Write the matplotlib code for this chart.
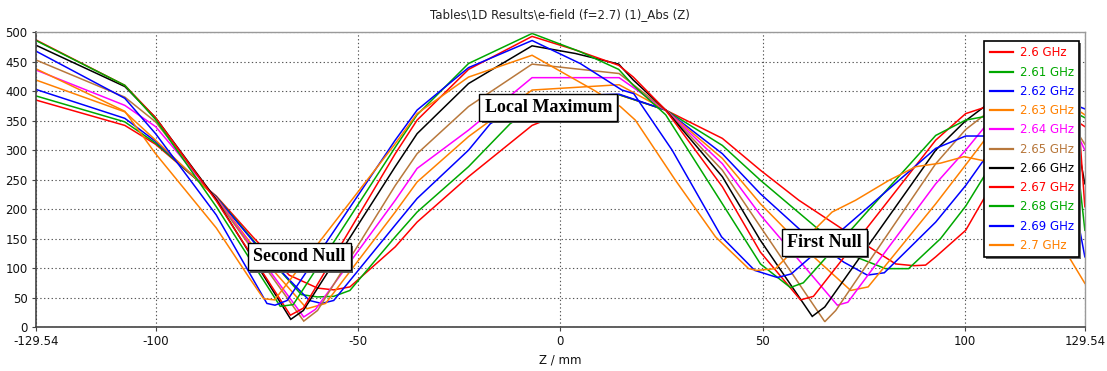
import matplotlib
matplotlib.use("Agg")
import matplotlib.pyplot as plt
from matplotlib import patheffects as pe

# ---- field magnitude along Z for each frequency (z in mm, |E| in V/m) ----
z_260 = [-129.54, -107.6, -100, -85, -76, -67, -60, -56, -52, -40.8, -35.4, -22.7, -7, 5, 14.5, 26, 40, 49.4, 58.9, 68.8, 76.2, 82.8, 87.3, 90.2, 92.7, 100.1, 106.3, 116, 124, 129.54]
e_260 = [385, 342, 310, 222, 153, 88, 66, 63, 68, 136, 178, 255, 342, 375, 394, 368, 320, 266, 215, 170, 136, 107, 104, 105, 119, 164, 238, 320, 365, 340]

z_261 = [-129.54, -107.6, -100, -85, -75, -64, -60, -56, -52, -40.8, -35.4, -22.7, -12.4, -7, 5, 14.5, 26, 40, 49.4, 63, 72.9, 80.3, 86, 93.9, 100.1, 106.3, 116, 124, 129.54]
e_261 = [392, 348, 312, 221, 140, 55, 51, 52, 62, 153, 195, 272, 345, 368, 386, 394, 368, 308, 249, 170, 119, 99, 99, 150, 205, 274, 345, 375, 355]

z_262 = [-129.54, -107.6, -100, -85, -74, -62, -59, -56, -40.8, -35.4, -22.7, -17.3, -7, 5, 14.5, 26, 40, 49.4, 60, 70, 75.8, 80, 92.7, 100.1, 106.3, 116, 124, 129.54]
e_262 = [403, 354, 315, 220, 130, 45, 40, 45, 173, 218, 300, 345, 385, 393, 395, 368, 294, 226, 160, 110, 88, 92, 178, 240, 300, 360, 385, 370]

z_263 = [-129.54, -107.6, -100, -85, -74, -62.6, -58, -40.8, -35.4, -22.7, -7, 14.5, 26, 40, 49.4, 60, 71.7, 76, 92.7, 100.1, 106.3, 116, 124, 129.54]
e_263 = [419, 365, 317, 219, 120, 31, 40, 195, 246, 323, 402, 411, 368, 286, 209, 135, 62, 68, 209, 275, 331, 375, 385, 360]

z_264 = [-129.54, -107.6, -100, -85, -63.4, -60.5, -40.8, -35.4, -22.7, -7, 14.5, 26, 40, 49.4, 68.4, 71, 92.7, 100.1, 106.3, 116, 124, 129.54]
e_264 = [436, 376, 340, 218, 17, 30, 215, 269, 334, 423, 423, 368, 277, 190, 37, 42, 243, 300, 352, 385, 380, 300]

z_265 = [-129.54, -107.6, -100, -85, -63.4, -60, -40.8, -35.4, -22.7, -7, 14.5, 26, 40, 49.4, 65.3, 68, 92.7, 100.1, 106.3, 116, 124, 129.54]
e_265 = [453, 390, 348, 217, 10, 28, 240, 294, 374, 446, 430, 368, 266, 170, 9, 28, 277, 335, 368, 390, 370, 310]

z_266 = [-129.54, -107.6, -100, -85, -66.6, -63.5, -40.8, -35.4, -22.7, -7, 3.7, 14.4, 18, 26, 40, 49.4, 62.2, 65.3, 92.7, 100.1, 106.3, 116, 124, 128, 129.54]
e_266 = [478, 408, 355, 216, 13, 28, 272, 328, 413, 477, 464, 446, 419, 368, 255, 147, 18, 34, 300, 350, 382, 392, 370, 300, 243]

z_267 = [-129.54, -107.6, -100, -85, -66.7, -63.5, -40.8, -35.4, -22.7, -7, 3.7, 14.4, 18, 26, 40, 49.4, 59.3, 62.5, 92.7, 100.1, 106.3, 116, 124, 128, 129.54]
e_267 = [487, 410, 355, 214, 20, 32, 294, 351, 437, 493, 470, 444, 424, 368, 238, 127, 46, 52, 317, 362, 376, 385, 380, 351, 204]

z_268 = [-129.54, -107.6, -100, -85, -69.2, -66, -40.8, -35.4, -22.7, -7, 4.9, 14.4, 18, 26, 40, 49.4, 56.8, 60, 92.7, 100.1, 106.3, 116, 124, 128, 129.54]
e_268 = [486, 410, 352, 204, 35, 38, 305, 360, 447, 498, 467, 437, 410, 360, 209, 107, 67, 75, 325, 351, 359, 372, 360, 260, 164]

z_269 = [-129.54, -107.6, -100, -85, -72.5, -70.5, -67.5, -40.8, -35.4, -22.7, -7, 4.9, 15.2, 18.1, 27.6, 39.8, 48, 53.6, 57, 92.7, 100.1, 106.3, 116, 124, 128, 129.54]
e_269 = [468, 388, 328, 190, 40, 37, 45, 317, 368, 440, 486, 447, 402, 396, 300, 153, 96, 84, 90, 303, 324, 324, 330, 290, 175, 119]

z_270 = [-129.54, -107.6, -100, -85, -77, -73.3, -70.6, -40.8, -35.4, -22.7, -7, 8.2, 14.8, 18.5, 28.4, 38.3, 46.5, 48.5, 53.1, 67.1, 72.9, 81.2, 87.8, 93.9, 99.7, 106, 115, 122, 129.54]
e_270 = [438, 366, 294, 168, 85, 48, 46, 311, 362, 424, 461, 402, 374, 351, 249, 153, 99, 96, 99, 195, 215, 249, 272, 278, 289, 280, 240, 160, 74]

labels = ["2.6 GHz", "2.61 GHz", "2.62 GHz", "2.63 GHz", "2.64 GHz", "2.65 GHz",
          "2.66 GHz", "2.67 GHz", "2.68 GHz", "2.69 GHz", "2.7 GHz"]

x_ticks = [-129.54, -100, -50, 0, 50, 100, 129.54]
x_tick_labels = ["-129.54", "-100", "-50", "0", "50", "100", "129.54"]
y_ticks = [0, 50, 100, 150, 200, 250, 300, 350, 400, 450, 500]

RED, GREEN, BLUE, ORANGE = "#FF0000", "#00A800", "#0000FF", "#FF8000"
MAGENTA, BROWN, BLACK = "#FF00FF", "#B8783C", "#000000"

series = [
    (z_260, e_260, RED), (z_261, e_261, GREEN), (z_262, e_262, BLUE),
    (z_263, e_263, ORANGE), (z_264, e_264, MAGENTA), (z_265, e_265, BROWN),
    (z_266, e_266, BLACK), (z_267, e_267, RED), (z_268, e_268, GREEN),
    (z_269, e_269, BLUE), (z_270, e_270, ORANGE),
]

plt.rcParams["font.family"] = ["DejaVu Sans"]

fig = plt.figure(figsize=(11.07, 3.71), dpi=100)
ax = fig.add_axes([0.0325, 0.1186, 0.9475, 0.7944])

for (z, e, c), lab in zip(series, labels):
    ax.plot(z, e, color=c, lw=1.1, label=lab, solid_joinstyle="miter")

ax.set_xlim(-129.54, 129.54)
ax.set_ylim(0, 500)
ax.set_xticks(x_ticks)
ax.set_xticklabels(x_tick_labels)
ax.set_yticks(y_ticks)
ax.tick_params(axis="both", direction="out", length=3, width=0.8,
               color="#444444", labelsize=8.5, labelcolor="#111111", pad=3)

ax.grid(True, linestyle=(0, (1.2, 2.2)), color="#555555", linewidth=0.8)
ax.set_axisbelow(True)

for side in ("left", "bottom"):
    ax.spines[side].set_color("#444444")
    ax.spines[side].set_linewidth(1.2)
for side in ("top", "right"):
    ax.spines[side].set_color("#9a9a9a")
    ax.spines[side].set_linewidth(1.0)

ax.set_title("Tables\\1D Results\\e-field (f=2.7) (1)_Abs (Z)", fontsize=8.5,
             color="#222222", pad=10)
ax.set_xlabel("Z / mm", fontsize=8.5, color="#111111", labelpad=4)

leg = ax.legend(loc="upper right", bbox_to_anchor=(0.9945, 0.97), fontsize=8.5,
                frameon=True, fancybox=False, edgecolor="black", facecolor="white",
                framealpha=1.0, handlelength=2.0, handletextpad=0.55,
                labelspacing=0.53, borderpad=0.45, borderaxespad=0.0)
leg.set_zorder(20)
leg.get_frame().set_linewidth(1.2)
leg.get_frame().set_path_effects([pe.withSimplePatchShadow(offset=(1.2, -1.2),
                                                           shadow_rgbFace="#666666",
                                                           alpha=1.0)])
for txt, (_, _, c) in zip(leg.get_texts(), series):
    txt.set_color(c)
for h in leg.get_lines():
    h.set_linewidth(1.6)

notes = [("Local Maximum", -3.0, 373), ("Second Null", -64.5, 119), ("First Null", 65.3, 143)]
for text, xn, yn in notes:
    t = ax.text(xn, yn, text, ha="center", va="center", fontsize=13, fontweight="bold",
                family=["Liberation Serif", "DejaVu Serif"], color="black", zorder=10,
                bbox=dict(boxstyle="square,pad=0.28", facecolor="white",
                          edgecolor="black", linewidth=1.0))
    t.get_bbox_patch().set_path_effects([pe.withSimplePatchShadow(offset=(1.6, -1.6),
                                                                  shadow_rgbFace="#555555",
                                                                  alpha=1.0)])

fig.savefig("out.png", dpi=100)
